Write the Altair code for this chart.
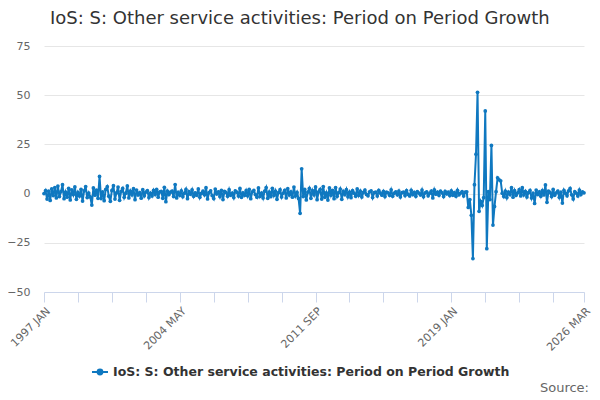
import altair as alt
import pandas as pd

series_name = "IoS: S: Other service activities: Period on Period Growth"
chart_title = "IoS: S: Other service activities: Period on Period Growth"

# monthly values, 1997 JAN .. 2026 MAR
y1997 = [0.0, 1.5, -2.8, 1.2, -3.5, 2.4, -1.0, 3.1, -2.2, 3.8, -1.5, 1.0]
y1998 = [4.5, -2.6, 0.8, -1.8, 2.7, -3.2, 1.9, -0.5, 3.4, -2.9, 0.6, -1.2]
y1999 = [2.2, -3.8, 1.4, 3.6, -2.0, 0.3, -1.7, -5.8, 2.9, -0.8, 1.8, -2.4]
y2000 = [8.7, -2.5, 0.9, -3.6, 2.1, 3.5, -1.3, -3.9, 1.6, 4.0, -2.8, 0.4]
y2001 = [3.3, -3.4, 1.1, 2.6, -1.9, 0.2, 3.9, -2.2, 1.3, -0.6, 2.5, -3.1]
y2002 = [1.8, -0.7, 0.5, -2.3, 2.0, -1.1, 0.8, 1.5, -2.0, 0.3, -1.2, 1.6]
y2003 = [-0.4, 2.2, -1.8, 0.9, 1.1, -2.4, 3.2, -4.1, 1.2, -0.5, 0.7, 1.3]
y2004 = [-1.5, 4.6, -2.2, 0.6, -0.9, 1.4, -1.6, 0.2, 2.1, -2.6, 1.0, -0.3]
y2005 = [1.9, -1.4, 0.4, -0.8, 2.4, -1.9, 0.1, 1.2, -0.6, 3.0, -2.7, 0.5]
y2006 = [1.4, -1.0, -2.5, 2.3, -0.2, 0.9, -1.5, 1.7, -3.0, 1.1, 0.6, -1.3]
y2007 = [2.0, -0.8, 0.3, -2.0, 1.4, 0.7, -1.2, 2.6, -1.9, 0.4, -0.9, 1.5]
y2008 = [-1.1, 2.2, -2.6, 0.9, 1.6, -0.5, -1.8, 2.9, -1.4, 0.2, -2.2, 1.2]
y2009 = [3.1, -2.4, 0.8, -1.6, 2.7, -0.9, 1.3, -2.9, 0.5, 2.0, -1.7, 0.3]
y2010 = [1.6, -2.2, 2.5, -0.7, 0.9, -1.8, 3.3, -1.2, 0.6, -2.5, -10.0, 12.6]
y2011 = [-1.5, 2.1, -3.2, 0.8, 2.6, -2.4, 1.5, -0.6, 3.4, -3.1, 0.9, 2.2]
y2012 = [-2.8, 3.6, -1.9, 0.4, -3.3, 2.9, -0.8, 1.7, -2.6, 3.1, -1.4, 0.5]
y2013 = [2.3, -2.9, 1.1, -0.5, 2.0, -1.6, 0.7, -2.1, 1.5, 0.2, -1.3, 2.4]
y2014 = [-0.9, 1.2, -1.7, 0.6, 1.8, -0.4, -1.1, 0.9, 1.4, -2.0, 0.5, 0.8]
y2015 = [-1.2, 1.6, 0.3, -0.8, 1.1, -1.5, 0.7, 0.4, -0.9, 1.9, -1.3, 0.2]
y2016 = [0.9, -0.6, 1.3, -1.7, 0.5, 0.8, -1.0, 1.5, -0.4, -1.2, 1.7, -0.5]
y2017 = [0.6, -1.4, 1.0, 0.3, -0.7, 1.8, -1.6, 0.4, 0.9, -1.1, 0.2, 1.3]
y2018 = [-2.2, 1.9, -0.3, 0.8, -0.9, 1.2, 0.4, -1.5, 1.1, -0.2, 0.7, -1.0]
y2019 = [1.4, -0.8, 0.5, -1.3, 1.7, -0.6, 0.3, 1.0, -1.2, 0.8, 0.9, -7.0]
y2020 = [-3.0, -11.0, -33.0, 4.5, 20.0, 51.5, -9.0, -4.0, -6.0, -2.0, 42.0, -28.0]
y2021 = [1.0, -3.0, 24.5, -16.0, -6.5, 1.0, 8.0, 7.0, 6.5, 0.2, -1.5, 1.2]
y2022 = [-2.0, 0.8, -0.5, 3.0, -1.8, 1.5, -0.9, 0.4, 2.0, -1.2, 3.0, -0.6]
y2023 = [1.1, -1.7, 0.5, 1.6, -2.2, 0.3, -5.0, 1.8, -0.4, 0.9, -1.3, 1.5]
y2024 = [-0.7, 4.4, -4.4, 1.2, 0.6, -1.5, 2.1, -0.8, 0.4, 1.3, -1.9, 0.7]
y2025 = [-4.8, 1.7, 0.2, -1.1, 1.4, 2.6, -0.6, -2.7, 1.0, 0.3, -1.2, 1.8]
y2026 = [-0.5, 0.9, 0.4]

values = (y1997 + y1998 + y1999 + y2000 + y2001 + y2002 + y2003 + y2004 + y2005
          + y2006 + y2007 + y2008 + y2009 + y2010 + y2011 + y2012 + y2013 + y2014
          + y2015 + y2016 + y2017 + y2018 + y2019 + y2020 + y2021 + y2022 + y2023
          + y2024 + y2025 + y2026)

tick_positions = [0, 22, 44, 66, 88, 110, 132, 154, 176, 198, 220, 242, 264, 286, 308, 330, 350]
label_positions = [0, 88, 176, 264, 350]
tick_labels = ["1997 JAN", "2004 MAY", "2011 SEP", "2019 JAN", "2026 MAR"]
y_ticks = [-50, -25, 0, 25, 50, 75]

df = pd.DataFrame({
    "idx": list(range(len(values))),
    "value": values,
    "series": [series_name] * len(values),
})

label_expr = "".join(
    f"datum.value == {p} ? '{t}' : " for p, t in zip(label_positions, tick_labels)
) + "''"

blue = "#0f78c0"

line = alt.Chart(df).mark_line(
    strokeWidth=2,
    point=alt.OverlayMarkDef(filled=True, size=14, color=blue),
).encode(
    x=alt.X("idx:Q",
            scale=alt.Scale(domain=[0, 350], nice=False, zero=False),
            axis=alt.Axis(values=tick_positions, labelExpr=label_expr, labelAngle=-45,
                          labelColor="#666666", labelFontSize=11, labelFlush=False,
                          labelOverlap=False, labelPadding=3,
                          domainColor="#ccd6eb", tickColor="#ccd6eb", tickSize=10,
                          grid=False, title=None)),
    y=alt.Y("value:Q",
            scale=alt.Scale(domain=[-50, 75], nice=False, zero=False),
            axis=alt.Axis(values=y_ticks, grid=True, gridColor="#e6e6e6", domain=False,
                          ticks=False, labelPadding=14, labelColor="#666666",
                          labelFontSize=11, title=None)),
    color=alt.Color("series:N", scale=alt.Scale(range=[blue]),
                    legend=alt.Legend(orient="none", legendX=47, legendY=317, title=None,
                                      labelFontSize=12.5, labelFontWeight="bold",
                                      labelColor="#333333", labelLimit=0,
                                      symbolType="M-1,0L1,0M-0.3,0A0.3,0.3,0,1,1,0.3,0A0.3,0.3,0,1,1,-0.3,0",
                                      symbolSize=256, symbolStrokeWidth=2,
                                      symbolStrokeColor=blue, symbolFillColor=blue)),
)

source = alt.Chart(pd.DataFrame({"t": ["Source:"]})).mark_text(
    align="right", baseline="middle", fontSize=13, color="#666666"
).encode(x=alt.value(545), y=alt.value(342), text="t:N")

chart = alt.layer(line, source).properties(
    width=540,
    height=246,
    autosize=alt.AutoSizeParams(type="none"),
    padding={"left": 36, "top": 38, "right": 8, "bottom": 104},
    title=alt.TitleParams(chart_title, anchor="start", frame="group", fontSize=18,
                          fontWeight="normal", color="#333333", offset=12, dx=6),
).configure(font="DejaVu Sans").configure_view(strokeWidth=0)

chart.save("out.html", embed_options={"renderer": "svg", "actions": False})
